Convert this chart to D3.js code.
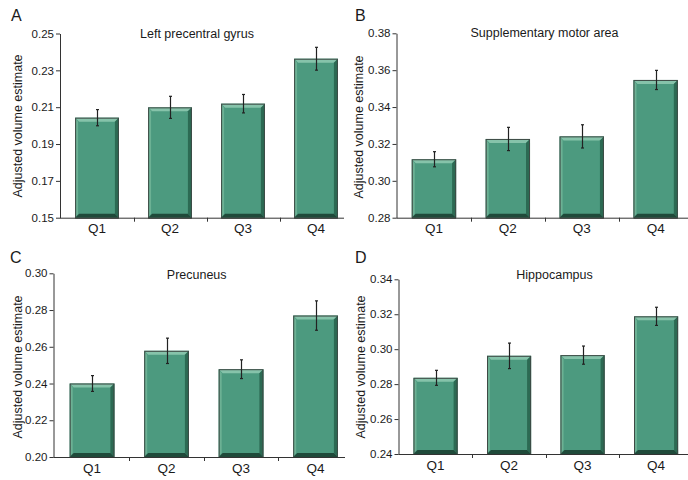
<!DOCTYPE html>
<html>
<head>
<meta charset="utf-8">
<script src="https://cdn.jsdelivr.net/npm/d3@7"></script>
<style>
  html, body { margin: 0; padding: 0; background: #fff; }
  svg { display: block; font-family: "Liberation Sans", Arial, sans-serif; }
</style>
</head>
<body>
<svg id="chart" width="688" height="480"></svg>
<script>
// ---------- DATA ----------
const categories = ["Q1", "Q2", "Q3", "Q4"];
const panelLetters = ["A", "B", "C", "D"];
const panelTitles = ["Left precentral gyrus", "Supplementary motor area", "Precuneus", "Hippocampus"];
const yAxisTitle = "Adjusted volume estimate";

const ticksA = [0.15, 0.17, 0.19, 0.21, 0.23, 0.25];
const ticksB = [0.28, 0.30, 0.32, 0.34, 0.36, 0.38];
const ticksC = [0.20, 0.22, 0.24, 0.26, 0.28, 0.30];
const ticksD = [0.24, 0.26, 0.28, 0.30, 0.32, 0.34];

const valuesA = [0.2043, 0.2099, 0.2119, 0.2363];
const errorsA = [0.0044, 0.0060, 0.0050, 0.0062];
const valuesB = [0.3117, 0.3227, 0.3241, 0.3547];
const errorsB = [0.0041, 0.0063, 0.0063, 0.0052];
const valuesC = [0.2400, 0.2578, 0.2478, 0.2770];
const errorsC = [0.0043, 0.0069, 0.0051, 0.0080];
const valuesD = [0.2836, 0.2962, 0.2966, 0.3188];
const errorsD = [0.0043, 0.0073, 0.0052, 0.0052];

// ---------- LAYOUT ----------
const panels = [
  { ticks: ticksA, values: valuesA, errors: errorsA,
    ax: 60, bx0: 60.5, bx1: 352.5, xEnd: 344, yTop: 33.5, yBot: 217.7,
    letterX: 11, letterY: 21, titleX: 197, titleY: 38, ylabX: 22, ylabY: 126 },
  { ticks: ticksB, values: valuesB, errors: errorsB,
    ax: 396.5, bx0: 397, bx1: 692.6, xEnd: 688, yTop: 33.3, yBot: 217.7,
    letterX: 355, letterY: 21, titleX: 544.5, titleY: 37, ylabX: 363, ylabY: 127 },
  { ticks: ticksC, values: valuesC, errors: errorsC,
    ax: 53.5, bx0: 54.8, bx1: 352.8, xEnd: 345, yTop: 273.3, yBot: 457,
    letterX: 10, letterY: 263, titleX: 196.7, titleY: 279, ylabX: 22, ylabY: 367 },
  { ticks: ticksD, values: valuesD, errors: errorsD,
    ax: 398.5, bx0: 398.8, bx1: 692.8, xEnd: 688, yTop: 279.3, yBot: 454,
    letterX: 355, letterY: 263, titleX: 554.5, titleY: 279, ylabX: 365, ylabY: 367 }
];

const colFace = "#4c9a7f";
const colTop = "#86c3aa";
const colLeft = "#6cb194";
const colRight = "#2c6a53";
const colBottom = "#1f4a3a";
const colOutline = "#3e4a45";
const axisColor = "#333";
const textColor = "#1a1a1a";

const svg = d3.select("#chart");

panels.forEach((p, i) => {
  const g = svg.append("g");
  const y = d3.scaleLinear()
    .domain([p.ticks[0], p.ticks[p.ticks.length - 1]])
    .range([p.yBot, p.yTop]);
  const x = d3.scaleBand()
    .domain(categories)
    .range([p.bx0, p.bx1])
    .paddingInner(0.4)
    .paddingOuter(0.2);

  // bars
  const d = 4;
  categories.forEach((c, k) => {
    const x0 = x(c), x1 = x(c) + x.bandwidth();
    const y0 = y(p.values[k]), y1 = y(p.ticks[0]);
    const bg = g.append("g");
    bg.append("rect").attr("x", x0).attr("y", y0)
      .attr("width", x1 - x0).attr("height", y1 - y0).attr("fill", colFace);
    const poly = (pts, fill) => bg.append("polygon")
      .attr("points", pts.map(q => q.join(",")).join(" ")).attr("fill", fill);
    poly([[x0, y0], [x1, y0], [x1 - d, y0 + d], [x0 + d, y0 + d]], colTop);
    poly([[x0, y0], [x0 + d - 1, y0 + d], [x0 + d - 1, y1 - d], [x0, y1]], colLeft);
    poly([[x1, y0], [x1, y1], [x1 - d, y1 - d], [x1 - d, y0 + d]], colRight);
    poly([[x0, y1], [x0 + d, y1 - d], [x1 - d, y1 - d], [x1, y1]], colBottom);
    bg.append("rect").attr("x", x0 + 0.5).attr("y", y0 + 0.5)
      .attr("width", x1 - x0 - 1).attr("height", y1 - y0)
      .attr("fill", "none").attr("stroke", colOutline).attr("stroke-width", 1);

    // error bar
    const cx = Math.round(x0 + x.bandwidth() / 2) + 0.5;
    const eTop = y(p.values[k] + p.errors[k]);
    const eBot = y(p.values[k] - p.errors[k]);
    g.append("line").attr("x1", cx).attr("x2", cx).attr("y1", eTop).attr("y2", eBot)
      .attr("stroke", "#222").attr("stroke-width", 1.2);
    [eTop, eBot].forEach(yy => g.append("line")
      .attr("x1", cx - 1.5).attr("x2", cx + 1.5).attr("y1", yy).attr("y2", yy)
      .attr("stroke", "#222").attr("stroke-width", 1.2));
  });

  // y axis
  const yAxis = g.append("g")
    .attr("transform", `translate(${p.ax},0)`)
    .call(d3.axisLeft(y).tickValues(p.ticks).tickFormat(d3.format(".2f"))
      .tickSize(4).tickSizeOuter(0).tickPadding(2));
  yAxis.select(".domain").attr("stroke", axisColor);
  yAxis.selectAll(".tick line").attr("stroke", axisColor);
  yAxis.selectAll(".tick text").attr("fill", textColor)
    .style("font-size", "11.5px").style("font-family", "'Liberation Sans', Arial, sans-serif");

  // x axis line
  g.append("line").attr("x1", p.ax).attr("x2", p.xEnd)
    .attr("y1", p.yBot + 0.5).attr("y2", p.yBot + 0.5)
    .attr("stroke", axisColor).attr("stroke-width", 1);
  // x ticks between categories
  categories.slice(1).forEach(c => {
    const bx = Math.round(x(c) - x.step() * x.paddingInner() / 2) + 0.5;
    g.append("line").attr("x1", bx).attr("x2", bx)
      .attr("y1", p.yBot).attr("y2", p.yBot + 4)
      .attr("stroke", axisColor).attr("stroke-width", 1);
  });
  // category labels
  categories.forEach(c => {
    g.append("text").attr("x", x(c) + x.bandwidth() / 2).attr("y", p.yBot + 15.5)
      .attr("text-anchor", "middle").attr("fill", textColor)
      .style("font-size", "13.5px").text(c);
  });

  // titles
  g.append("text").attr("x", p.titleX).attr("y", p.titleY)
    .attr("text-anchor", "middle").attr("fill", textColor)
    .style("font-size", "12.5px").text(panelTitles[i]);
  g.append("text").attr("x", p.letterX).attr("y", p.letterY)
    .attr("fill", textColor).style("font-size", "16px").text(panelLetters[i]);
  g.append("text")
    .attr("transform", `translate(${p.ylabX},${p.ylabY}) rotate(-90)`)
    .attr("text-anchor", "middle").attr("fill", textColor)
    .style("font-size", "12.5px").text(yAxisTitle);
});
</script>
</body>
</html>
